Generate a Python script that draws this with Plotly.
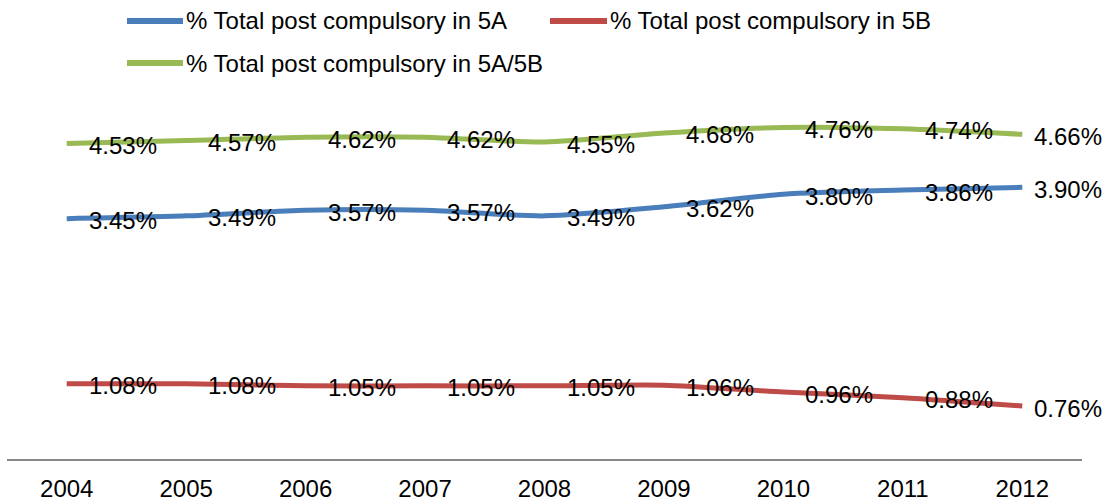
import plotly.graph_objects as go

years = [2004, 2005, 2006, 2007, 2008, 2009, 2010, 2011, 2012]
series_names = ["% Total post compulsory in 5A",
                "% Total post compulsory in 5B",
                "% Total post compulsory in 5A/5B"]
pct_5a = [3.45, 3.49, 3.57, 3.57, 3.49, 3.62, 3.80, 3.86, 3.90]
pct_5b = [1.08, 1.08, 1.05, 1.05, 1.05, 1.06, 0.96, 0.88, 0.76]
pct_5a5b = [4.53, 4.57, 4.62, 4.62, 4.55, 4.68, 4.76, 4.74, 4.66]
colors = ["#4A7EBB", "#BE4B48", "#98B954"]

W, H = 1109, 504
ML, MR, MT, MB = 7, 27, 41, 45
PW, PH = W - ML - MR, H - MT - MB
FONT = "Liberation Sans, Arial, sans-serif"


def px_x(px):
    return (px - ML) / PW


def px_y(py):
    return (H - MB - py) / PH


fig = go.Figure()
annotations = []
shapes = []
all_series = [pct_5a, pct_5b, pct_5a5b]
for name, vals, col in zip(series_names, all_series, colors):
    fig.add_trace(go.Scatter(
        x=years, y=vals, name=name, mode="lines",
        line=dict(color=col, width=5, shape="spline", smoothing=0.7),
        showlegend=False, hoverinfo="x+y",
    ))
    for i, (yr, v) in enumerate(zip(years, vals)):
        last = i == len(years) - 1
        annotations.append(dict(
            x=yr, y=v, xref="x", yref="y", text=f"{v:.2f}%",
            showarrow=False, xanchor="left", yanchor="middle",
            xshift=10 if last else 20, yshift=-2,
            font=dict(family=FONT, size=24, color="#000000"),
        ))

# manual legend (two rows)
legend_pos = [(127, 183, 21), (550, 607, 21), (127, 183, 63)]
for name, col, (x0, x1, yy) in zip(series_names, colors, legend_pos):
    shapes.append(dict(type="line", xref="paper", yref="paper",
                       x0=px_x(x0), x1=px_x(x1), y0=px_y(yy), y1=px_y(yy),
                       line=dict(color=col, width=6)))
    annotations.append(dict(
        x=px_x(x1 + 1), y=px_y(yy), xref="paper", yref="paper",
        text=name, showarrow=False, xanchor="left", yanchor="middle",
        font=dict(family=FONT, size=24, color="#000000"),
    ))

fig.update_layout(
    width=W, height=H,
    margin=dict(l=ML, r=MR, t=MT, b=MB, pad=0, autoexpand=False),
    paper_bgcolor="white", plot_bgcolor="white",
    font=dict(family=FONT, size=24, color="#000000"),
    annotations=annotations, shapes=shapes,
    showlegend=False,
)
fig.update_xaxes(
    type="linear", range=[years[0] - 0.5, years[-1] + 0.5],
    tickmode="array", tickvals=years, ticktext=[str(y) for y in years],
    showline=True, linecolor="#878787", linewidth=2,
    showgrid=False, zeroline=False, automargin=False,
    ticks="outside", ticklen=7, tickcolor="rgba(0,0,0,0)",
    tickfont=dict(family=FONT, size=24, color="#000000"),
)
fig.update_yaxes(
    range=[0, 6], visible=False, showgrid=False, zeroline=False,
    automargin=False,
)

fig.write_html(
    "out.html",
    config={"displayModeBar": False},
    post_script="document.body.style.margin='0px';document.body.style.overflow='hidden';",
)
